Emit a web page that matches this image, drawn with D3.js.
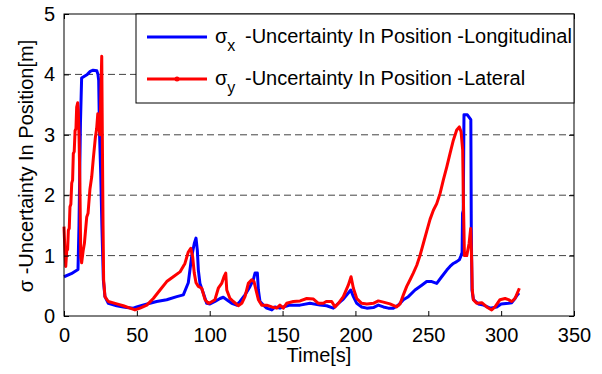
<!DOCTYPE html>
<html><head><meta charset="utf-8">
<script src="https://cdn.jsdelivr.net/npm/d3@7/dist/d3.min.js"></script>
<style>body{margin:0;background:#fff}svg{display:block}text{font-family:Arial,"Liberation Sans",sans-serif;fill:#000}</style>
</head><body><svg id="c" width="602" height="374"></svg>
<script>
const xTicks=[0,50,100,150,200,250,300,350];
const yTicks=[0,1,2,3,4,5];
const seriesNames=["-Uncertainty In Position -Longitudinal","-Uncertainty In Position -Lateral"];
const seriesSubs=["x","y"];
const blueSeries=[[0,0.65],[5,0.7],[9.6,0.77],[10.3,1.5],[10.8,2.4],[11.3,3.2],[12.1,3.94],[14,3.97],[16,4.0],[18,4.05],[20,4.07],[22.5,4.06],[23.3,4.0],[23.8,3.9],[24.4,3.0],[25.2,2.36],[26,1.5],[27,0.6],[28.1,0.32],[30.4,0.21],[36.2,0.17],[40.7,0.15],[43,0.14],[47.6,0.13],[49.9,0.15],[54,0.18],[59,0.21],[63.6,0.24],[70.5,0.27],[77.4,0.32],[81.9,0.35],[85.3,0.55],[87.6,0.98],[89.4,1.2],[90.6,1.29],[91.5,1.09],[92.2,0.76],[93.3,0.54],[95.6,0.38],[97.9,0.21],[100.2,0.2],[103.6,0.24],[107.1,0.29],[109.3,0.31],[111.7,0.27],[115.1,0.21],[118.5,0.18],[120.8,0.24],[124.2,0.35],[127.7,0.49],[129.9,0.6],[131.1,0.71],[132.7,0.71],[133.4,0.43],[134.5,0.24],[136.8,0.18],[139.1,0.13],[142.6,0.1],[144.8,0.15],[148.2,0.13],[150.5,0.15],[155.1,0.18],[162,0.18],[168.8,0.21],[175.7,0.18],[180.3,0.17],[184.8,0.13],[188.3,0.21],[191.7,0.28],[195.1,0.38],[196.8,0.43],[198.6,0.32],[200.9,0.21],[204.3,0.15],[207.8,0.13],[212.3,0.14],[215.7,0.18],[219.2,0.15],[222.6,0.13],[226,0.13],[229.5,0.18],[232.9,0.27],[236.3,0.32],[240.9,0.43],[245.5,0.51],[248.9,0.57],[252.4,0.57],[255.8,0.54],[259.2,0.65],[262.7,0.76],[264.9,0.82],[267.2,0.87],[269.5,0.9],[271.3,0.93],[272.5,1.0],[273.2,1.05],[273.5,1.7],[274.0,1.75],[274.5,3.33],[276.8,3.33],[279.2,3.25],[279.5,1.48],[280,0.43],[281,0.27],[284.4,0.2],[288,0.18],[292.4,0.13],[297,0.15],[300,0.2],[305,0.21],[307.3,0.22],[309.5,0.29],[311.1,0.35],[312.3,0.38]];
const redSeries=[[0,1.48],[0.6,1.1],[1.2,0.82],[1.9,1.09],[2.5,1.1],[3.0,1.42],[3.6,1.45],[4.1,1.81],[4.7,1.85],[5.3,2.2],[5.9,2.25],[6.4,2.69],[7.0,2.72],[7.6,3.07],[8.2,3.1],[8.7,3.46],[9.4,3.53],[9.8,3.4],[10.3,3.0],[10.9,2.2],[11.5,0.98],[12.1,0.88],[13.2,1.09],[14,1.2],[15.6,1.64],[16.5,1.7],[17.8,2.1],[19,2.3],[20.1,2.6],[21.5,2.95],[22.4,3.1],[23.2,3.35],[23.8,3.15],[24.7,3.0],[25.4,3.8],[25.9,4.3],[26.3,3.0],[26.8,1.5],[27.2,0.6],[28.1,0.32],[30.4,0.24],[36.2,0.2],[40.7,0.17],[45.3,0.13],[48.7,0.1],[52.2,0.13],[56.8,0.18],[61.3,0.29],[65.9,0.43],[70.5,0.57],[75,0.65],[79.6,0.73],[83,0.87],[85.3,1.06],[87,1.12],[88.3,0.98],[89.4,0.71],[90.6,0.55],[92.2,0.49],[94.5,0.46],[96.8,0.27],[99,0.21],[100.2,0.22],[103.6,0.27],[105.9,0.46],[108.2,0.54],[109.8,0.65],[111,0.71],[111.7,0.43],[113.9,0.29],[116.2,0.24],[119.6,0.17],[122,0.21],[124.2,0.32],[126.5,0.54],[128.8,0.6],[130.4,0.57],[131.8,0.43],[133.4,0.27],[135.7,0.18],[139.1,0.18],[142.6,0.15],[146,0.13],[148.2,0.18],[150.5,0.13],[152.8,0.21],[157.4,0.24],[162,0.25],[166.6,0.29],[171.2,0.28],[174.6,0.21],[178,0.21],[180,0.24],[183.7,0.24],[186,0.15],[188.3,0.21],[191.7,0.32],[195.1,0.51],[197,0.65],[198.6,0.46],[200.9,0.29],[204.3,0.21],[207.8,0.2],[212.3,0.21],[215.7,0.25],[219.2,0.23],[223.7,0.2],[228.3,0.15],[230.6,0.2],[232.9,0.35],[235.2,0.49],[237.5,0.6],[239.7,0.71],[242.1,0.84],[244.3,1.0],[246.6,1.2],[248.9,1.4],[251.2,1.6],[253.5,1.75],[255.8,1.86],[258.1,2.03],[260.3,2.25],[262.7,2.47],[264.9,2.69],[267.2,2.91],[269.5,3.08],[271.3,3.13],[272.5,3.05],[273.6,2.75],[274.1,1.92],[274.8,1.0],[276.4,1.0],[278,1.2],[279.1,1.45],[279.8,0.9],[280.2,0.43],[280.9,0.27],[283.2,0.21],[286.7,0.22],[290.1,0.15],[293.5,0.1],[295.8,0.15],[299.2,0.27],[302.7,0.29],[305,0.27],[307.3,0.24],[309.5,0.29],[311.1,0.38],[312.5,0.46]];

const svg=d3.select("#c");
const L=64,R=574,T=14,B=316;
const x=d3.scaleLinear().domain([0,350]).range([L,R]);
const y=d3.scaleLinear().domain([0,5]).range([B,T]);

// grid
svg.append("g").selectAll("line").data(yTicks.filter(d=>d>0&&d<5)).join("line")
 .attr("x1",L).attr("x2",R).attr("y1",d=>y(d)).attr("y2",d=>y(d))
 .attr("stroke","#444").attr("stroke-width",1).attr("stroke-dasharray","7,4");

const line=d3.line().x(d=>x(d[0])).y(d=>y(d[1]));
svg.append("path").datum(blueSeries).attr("d",line).attr("fill","none").attr("stroke","#0000ff").attr("stroke-width",3).attr("stroke-linejoin","round");
svg.append("path").datum(redSeries).attr("d",line).attr("fill","none").attr("stroke","#ff0000").attr("stroke-width",3).attr("stroke-linejoin","round");

// axes
const fs=20;
const fmt=d3.format("d");
const ax=svg.append("g").attr("transform",`translate(0,${B})`).call(d3.axisBottom(x).tickValues(xTicks).tickFormat(fmt).tickSizeInner(-5).tickSizeOuter(0).tickPadding(12));
const ay=svg.append("g").attr("transform",`translate(${L},0)`).call(d3.axisLeft(y).tickValues(yTicks).tickFormat(fmt).tickSizeInner(-5).tickSizeOuter(0).tickPadding(9));
const ax2=svg.append("g").attr("transform",`translate(0,${T})`).call(d3.axisTop(x).tickValues(xTicks).tickSizeInner(-5).tickSizeOuter(0));
const ay2=svg.append("g").attr("transform",`translate(${R},0)`).call(d3.axisRight(y).tickValues(yTicks).tickSizeInner(-5).tickSizeOuter(0));
ax2.selectAll("text").remove(); ay2.selectAll("text").remove();
[ax,ay,ax2,ay2].forEach(g=>{g.select(".domain").remove();g.selectAll("line").attr("stroke","#000");g.selectAll("text").attr("font-size",fs).attr("font-family","Arial, 'Liberation Sans', sans-serif").attr("fill","#000");});
svg.append("rect").attr("x",L).attr("y",T).attr("width",R-L).attr("height",B-T).attr("fill","none").attr("stroke","#000").attr("stroke-width",1);

// labels
svg.append("text").attr("x",(L+R)/2).attr("y",362).attr("text-anchor","middle").attr("font-size",fs).text("Time[s]");
svg.append("text").attr("transform","translate(33,166) rotate(-90)").attr("text-anchor","middle").attr("font-size",fs).text("σ -Uncertainty In Position[m]");

// legend
const lg=svg.append("g");
lg.append("rect").attr("x",136).attr("y",T).attr("width",R-136).attr("height",103-T).attr("fill","#fff").attr("stroke","#000").attr("stroke-width",1);
const colors=["#0000ff","#ff0000"];
const rows=[37,79];
seriesNames.forEach((n,i)=>{
  lg.append("line").attr("x1",147).attr("x2",207).attr("y1",rows[i]).attr("y2",rows[i]).attr("stroke",colors[i]).attr("stroke-width",3);
  if(i===1) lg.append("circle").attr("cx",177).attr("cy",rows[i]).attr("r",2.5).attr("fill",colors[i]);
  const t=lg.append("text").attr("font-size",fs).attr("y",rows[i]+6);
  t.append("tspan").attr("x",215).text("σ");
  t.append("tspan").attr("font-size",16).attr("dy",8).text(seriesSubs[i]);
  t.append("tspan").attr("x",245).attr("dy",-8).text(n);
});
</script></body></html>
